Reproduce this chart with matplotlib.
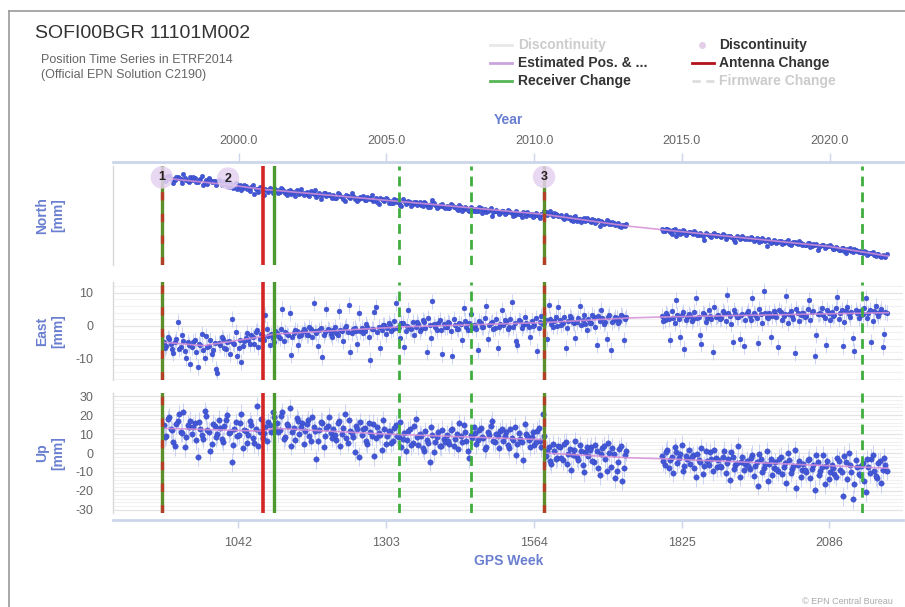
import numpy as np
import matplotlib
matplotlib.use('Agg')
import matplotlib.pyplot as plt
from matplotlib.lines import Line2D

plt.rcParams['font.family'] = ['Liberation Sans', 'DejaVu Sans']

W, H = 905, 607

# ---------------- data ----------------
seg_a_weeks = np.arange(910, 1726, 5)      # 164 samples
seg_b_weeks = np.arange(1790, 2186, 5)     # 80 samples
seg_a2_weeks = np.arange(912.5, 1728, 5)   # 164 samples
seg_b2_weeks = np.arange(1792.5, 2188, 5)  # 80 samples

north_a = [
    23.5, 22.0, 24.1, 22.8, 21.6, 23.9, 22.4, 25.8, 22.1, 20.9,
    21.8, 23.0, 20.6, 22.5, 18.9, 21.7, 22.9, 20.8, 21.4, 19.9,
    20.6, 19.2, 20.9, 17.3, 18.4, 19.0, 16.2, 18.8, 17.1, 18.0,
    16.9, 17.8, 13.2, 16.0, 17.4, 15.1, 16.6, 14.3, 15.8, 16.9,
    15.6, 14.2, 16.4, 13.8, 15.0, 12.9, 14.7, 15.9, 13.4, 14.1,
    13.9, 12.6, 14.8, 13.1, 11.2, 13.5, 12.4, 14.0, 12.7, 11.8,
    12.3, 10.8, 12.9, 11.5, 9.1, 11.9, 10.6, 12.2, 11.0, 10.2,
    10.9, 9.6, 11.5, 10.1, 8.8, 10.4, 6.9, 9.8, 9.1, 9.9,
    8.9, 7.6, 9.4, 8.2, 5.5, 8.6, 7.4, 8.0, 6.8, 7.9,
    7.2, 6.1, 8.0, 6.6, 5.4, 9.6, 6.3, 5.2, 6.0, 5.1,
    5.8, 4.6, 6.2, 4.9, 3.3, 5.0, 4.1, 4.6, 2.9, 3.8,
    3.6, 2.4, 4.3, 3.1, 1.9, 3.2, -0.5, 2.7, 2.2, 1.6,
    2.3, 1.1, 2.6, 1.4, 0.2, 1.5, 0.6, 1.9, -0.8, 0.7,
    0.9, -0.4, 0.3, -1.5, 0.5, 2.2, 1.4, 0.6, 1.6, 0.3,
    -0.6, -1.5, 0.4, -1.9, -2.8, -1.2, -3.6, -2.1, -2.6, -3.4,
    -2.8, -4.1, -3.0, -3.9, -6.5, -4.0, -4.8, -3.9, -5.2, -4.6,
    -5.4, -6.6, -5.8, -6.9,
]
north_b = [
    -8.6, -9.9, -8.8, -10.4, -9.2, -12.8, -9.7, -10.9, -10.0, -11.2,
    -10.6, -11.8, -10.9, -12.3, -11.4, -15.2, -11.9, -12.8, -11.6, -12.9,
    -12.2, -13.4, -12.6, -13.8, -12.9, -14.1, -16.9, -13.5, -14.4, -13.9,
    -14.3, -15.1, -13.9, -15.6, -14.8, -16.2, -15.4, -19.3, -15.9, -16.4,
    -15.8, -16.9, -16.2, -17.4, -16.5, -18.0, -17.1, -16.6, -17.8, -17.3,
    -17.9, -18.6, -17.6, -19.0, -18.3, -21.5, -19.1, -18.5, -19.8, -19.4,
    -19.7, -21.0, -20.3, -21.6, -20.6, -23.8, -21.4, -22.0, -21.2, -22.5,
    -22.4, -23.5, -22.9, -24.1, -23.3, -24.8, -24.2, -25.6, -24.7, -25.9,
]
north_a2 = [
    21.4, 24.6, 22.7, 20.2, 24.0, 22.9, 19.8, 23.3, 21.5, 23.7,
    23.8, 20.4, 21.9, 24.3, 20.9, 19.1, 22.2, 21.0, 18.6, 21.8,
    18.7, 21.2, 17.9, 19.8, 16.8, 20.1, 18.3, 15.4, 18.9, 16.4,
    15.2, 18.5, 16.3, 14.6, 17.1, 12.4, 15.5, 17.2, 14.1, 15.3,
    13.6, 16.8, 14.9, 12.5, 15.8, 14.4, 11.9, 14.2, 16.1, 12.8,
    14.6, 11.9, 13.7, 15.4, 12.5, 10.3, 13.9, 12.0, 13.3, 10.9,
    10.9, 13.6, 11.8, 9.9, 12.6, 11.2, 13.8, 10.3, 8.7, 11.6,
    11.8, 9.2, 10.8, 12.4, 9.6, 8.1, 11.0, 9.4, 10.7, 7.6,
    7.8, 10.3, 8.4, 6.5, 9.9, 7.1, 8.8, 5.9, 8.1, 6.4,
    8.3, 5.6, 7.4, 4.8, 6.9, 7.8, 4.5, 6.6, 7.1, 4.3,
    4.4, 6.7, 5.2, 3.6, 6.1, 2.8, 5.3, 3.4, 4.8, 2.6,
    2.8, 4.9, 1.6, 3.9, 2.5, 4.4, 1.8, 3.5, 0.9, 2.9,
    0.9, 3.1, 1.7, -0.4, 2.4, 0.8, -1.1, 1.2, 2.0, -0.1,
    -0.9, 1.4, -0.2, 0.8, 2.9, 0.1, 2.3, -0.6, 1.0, -0.7,
    0.2, -2.4, -0.9, -1.1, -3.5, -0.4, -2.2, -4.5, -1.6, -2.0,
    -3.7, -2.2, -4.6, -2.9, -3.4, -5.3, -3.1, -5.6, -4.3, -6.1,
    -4.9, -7.4, -6.0, -5.2,
]
north_b2 = [
    -10.1, -8.3, -9.5, -11.4, -8.9, -10.2, -11.7, -9.4, -12.2, -10.5,
    -11.3, -10.0, -12.6, -11.1, -13.2, -10.8, -12.4, -13.7, -11.0, -12.1,
    -13.1, -12.0, -14.6, -12.9, -13.3, -15.2, -12.7, -14.8, -13.0, -15.0,
    -15.0, -13.8, -16.1, -14.5, -16.7, -14.0, -16.3, -15.1, -17.2, -15.5,
    -17.0, -15.9, -17.8, -16.4, -15.7, -18.6, -16.8, -17.5, -16.1, -18.3,
    -18.4, -17.4, -19.6, -18.0, -17.7, -19.9, -18.8, -20.4, -19.2, -18.7,
    -20.8, -19.9, -21.9, -20.2, -22.3, -21.1, -20.5, -22.8, -21.7, -23.1,
    -23.0, -22.1, -24.6, -23.6, -22.8, -25.3, -24.0, -26.2, -25.1, -24.4,
]

east_a = [
    -4.8, -6.2, -3.9, -7.1, -5.0, 1.2, -6.4, -4.5, -9.8, -5.7,
    -6.3, -4.2, -12.5, -5.9, -7.4, -3.1, -6.0, -8.6, -5.2, -14.2,
    -5.8, -3.9, -7.0, -4.6, 2.1, -5.5, -9.2, -4.3, -6.1, -3.6,
    -4.4, -2.8, -5.6, -1.2, -3.9, -3.1, 3.4, -3.0, -2.6, -4.8,
    -2.2, -3.6, 5.1, -1.9, -2.9, -8.7, -2.3, -1.4, -3.2, -2.0,
    -1.6, -2.7, -0.8, 6.8, -2.2, -1.3, -9.5, -1.9, -0.9, -2.4,
    -1.1, -2.3, 4.6, -1.6, -0.5, -1.9, -7.8, -0.8, -1.4, 3.9,
    -0.6, -1.7, -0.2, -10.3, -0.9, 5.8, -0.4, -1.3, 0.3, -0.7,
    0.4, -1.0, 6.9, -0.3, 0.8, -6.4, 0.1, -0.6, 1.2, -0.2,
    0.6, -0.8, 1.3, -7.9, 0.2, 7.4, -0.4, 0.9, -1.1, 0.5,
    -0.3, 0.8, -9.1, 0.3, -0.9, 0.6, 5.5, -0.2, 1.0, -0.5,
    0.4, -7.2, 0.9, -0.3, 6.1, 0.2, 1.1, -0.6, -6.8, 0.7,
    0.2, 1.3, -0.4, 7.3, 0.9, -5.9, 1.4, 0.3, 1.0, -0.2,
    1.5, 0.4, -7.5, 1.1, 0.6, 1.8, 6.2, 0.7, 1.4, -0.1,
    1.9, 0.8, -6.7, 1.5, 2.3, 0.9, 1.2, 6.0, 1.7, 0.6,
    2.1, 1.0, 2.6, -5.8, 1.5, 2.4, 1.3, 2.8, -7.4, 1.8,
    2.5, 1.6, 3.0, 2.2,
]
east_b = [
    2.9, 1.8, 3.4, -4.2, 2.5, 7.8, 2.1, 3.2, -6.9, 2.7,
    3.1, 2.2, 8.6, 2.8, -5.5, 3.5, 2.4, 3.0, -7.8, 2.6,
    3.3, 2.5, 3.9, 9.5, 2.9, -4.8, 3.6, 2.7, 3.2, -6.2,
    3.8, 2.9, 8.4, 3.3, -5.1, 3.7, 10.6, 2.8, 3.9, 3.1,
    3.5, -6.5, 4.1, 3.0, 9.2, 3.6, 2.9, -8.3, 4.0, 3.4,
    3.8, 3.1, 7.9, 4.3, -9.0, 3.5, 4.0, 3.2, -5.7, 3.9,
    4.2, 3.4, 8.8, 3.9, -6.0, 4.4, 3.6, 4.1, -7.6, 3.8,
    4.5, 3.7, 8.5, 4.0, -4.9, 4.6, 3.9, 4.3, -6.4, 4.1,
]
east_a2 = [
    -6.8, -3.5, -5.4, -8.1, -4.1, -6.9, -2.7, -7.7, -4.9, -11.6,
    -4.8, -7.9, -5.5, -2.4, -9.6, -6.4, -4.4, -7.2, -13.1, -5.1,
    -3.3, -6.6, -4.9, -8.4, -5.2, -1.9, -6.8, -11.0, -4.7, -2.1,
    -5.5, -3.4, -1.8, -6.3, -2.4, -4.2, -0.9, -5.9, -3.7, -1.6,
    -3.1, -0.8, -4.5, -2.6, 3.8, -3.5, -1.1, -5.8, -2.7, -0.9,
    -2.9, -0.4, -3.3, -1.7, -6.2, -0.6, -2.8, 5.2, -1.2, -3.5,
    -0.3, -2.9, -1.2, -4.6, -0.1, 6.3, -2.2, -0.7, -5.4, -1.5,
    -2.1, 0.5, -3.4, -0.8, 4.1, -1.9, -6.8, 0.2, -2.5, 1.0,
    -1.4, 1.5, -0.7, -3.8, 0.9, -1.6, 4.8, -0.9, -2.7, 1.3,
    -1.6, 1.8, -0.5, 2.4, -3.6, 0.7, -1.3, 1.9, -8.6, -0.4,
    1.2, -1.5, 2.1, -0.8, 0.9, -4.4, 1.6, -1.1, 3.6, 0.4,
    -1.0, 1.6, -0.4, 2.3, -3.9, 1.0, -0.9, 2.0, -0.3, 4.9,
    1.7, -0.9, 2.2, -0.3, -4.6, 1.9, -0.7, 2.6, 0.5, -3.3,
    0.1, 2.4, -0.6, 3.0, 0.8, -4.1, 2.0, -0.2, 2.7, 5.8,
    0.2, 2.8, -0.5, 3.1, 1.1, -3.6, 2.5, 0.4, 3.4, -1.2,
    0.8, 3.2, -0.2, 2.9, 4.7, 0.6, -3.9, 3.3, 1.2, 2.7,
    0.9, 3.4, -4.3, 2.8,
]
east_b2 = [
    1.4, 3.9, 2.2, 4.6, 0.9, 3.3, -3.4, 4.1, 1.9, 3.6,
    1.6, 4.3, 2.5, -2.8, 3.8, 1.3, 4.7, 2.0, 5.6, 2.9,
    2.1, 4.5, 1.4, 3.9, 0.6, 4.8, 2.6, -4.1, 3.5, 1.9,
    4.4, 1.7, 3.8, 2.3, 5.1, 0.8, 4.0, 2.4, -3.3, 4.6,
    2.6, 4.9, 1.8, 3.7, 0.9, 4.5, 2.2, 5.2, 1.5, 3.9,
    2.8, 5.0, 1.9, 4.4, -2.9, 3.6, 5.4, 2.5, 4.8, 1.7,
    3.0, 5.3, 2.1, 4.7, 1.2, 5.8, 2.6, -3.8, 4.9, 2.3,
    3.2, 5.5, 2.4, 4.8, 1.6, 6.1, 3.0, 5.0, -2.6, 3.9,
]

up_a = [
    14.5, 9.2, 18.7, 12.1, 3.5, 16.8, 11.0, 21.4, 8.3, 13.9,
    10.2, 15.6, -2.1, 12.8, 7.4, 19.5, 11.3, 4.6, 14.2, 9.8,
    13.1, 6.0, 17.4, 10.5, -4.8, 12.6, 8.9, 15.8, 2.7, 11.7,
    9.4, 14.9, 5.2, 24.6, 11.2, 7.9, 13.5, 16.1, 10.8, 19.2,
    16.0, 12.2, 21.5, 8.6, 14.4, 3.9, 13.0, 18.3, 10.1, 15.7,
    11.4, 17.2, 6.5, 13.6, -3.2, 12.0, 15.9, 9.0, 14.1, 10.7,
    12.5, 7.1, 16.6, 10.2, 20.8, 5.4, 11.8, 8.3, 14.0, -1.9,
    9.6, 13.4, 4.8, 11.0, 15.5, 7.7, 10.4, 1.6, 12.7, 9.1,
    11.3, 6.2, 14.8, 8.4, 3.1, 10.6, 7.0, 12.9, 5.5, 17.9,
    4.2, 8.8, 1.3, 6.7, -4.5, 9.4, 5.8, 10.9, 3.6, 7.5,
    9.7, 5.0, 12.4, 7.3, 2.2, 8.9, 14.6, 6.1, -2.8, 8.0,
    10.3, 6.6, 13.2, 7.9, 3.0, 9.5, 17.1, 5.7, 8.8, 11.4,
    6.4, 10.8, 2.5, 8.1, 13.7, 4.9, 7.6, -3.5, 9.9, 6.9,
    8.4, 4.3, 11.6, 6.2, 20.5, -1.8, 3.4, -5.6, 1.0, -2.4,
    2.9, -3.8, 5.6, -0.7, -8.9, 1.7, -2.2, 4.0, -6.3, 0.5,
    -1.6, 3.3, -5.0, 0.9, -11.8, 2.6, -3.1, 5.2, -7.4, -0.3,
    -9.6, 2.1, -14.5, -1.2,
]
up_b = [
    -1.5, -6.2, 1.8, -3.9, -10.4, 0.7, -2.8, 4.3, -7.1, -3.3,
    -5.6, -1.2, -12.9, -3.5, 2.4, -6.8, -4.1, 0.3, -9.5, -2.7,
    -3.9, -7.6, 1.2, -5.1, -14.0, -2.3, -6.4, 3.6, -4.8, -8.9,
    -4.2, -8.3, -1.0, -6.6, -17.2, -3.4, -7.9, 0.8, -5.7, -11.5,
    -5.0, -9.7, -2.1, -7.3, -15.6, -3.8, -8.4, 1.5, -6.2, -12.8,
    -5.8, -10.1, -3.0, -8.2, -19.4, -4.6, -9.3, -1.1, -7.0, -13.6,
    -6.4, -10.9, -2.5, -8.7, -22.8, -4.9, 0.2, -9.8, -16.1, -7.2,
    -11.4, -5.3, -20.6, -7.6, -2.9, -9.5, -13.2, -4.4, -8.8, -6.1,
]
up_a2 = [
    8.4, 17.9, 12.6, 5.8, 15.2, 20.3, 10.6, 2.9, 14.8, 17.1,
    13.7, 6.8, 16.4, 9.5, 22.1, 11.9, 0.8, 15.3, 8.2, 17.6,
    7.5, 14.4, 19.8, 11.1, 4.4, 16.2, 9.7, 20.6, 12.3, 5.3,
    16.8, 8.1, 12.9, 3.6, 18.0, 10.3, 6.1, 15.0, 21.7, 12.4,
    10.8, 19.4, 7.3, 15.3, 23.6, 11.1, 6.9, 17.0, 13.8, 4.8,
    15.4, 8.8, 18.9, 11.7, 6.2, 16.5, 2.9, 13.3, 19.2, 8.0,
    9.6, 15.9, 3.8, 13.1, 7.9, 17.4, 10.5, 0.7, 12.7, 16.2,
    12.8, 6.1, 15.7, 8.9, -1.6, 13.9, 9.4, 17.2, 5.0, 11.5,
    5.3, 13.0, 9.1, 16.5, 7.5, 0.9, 11.8, 4.2, 14.0, 8.6,
    9.9, 2.7, 11.4, 5.1, 13.6, 0.4, 8.3, 3.9, 12.2, 6.0,
    6.2, 11.9, 3.5, 10.1, 15.8, 5.6, 11.2, 1.0, 9.3, 13.5,
    4.7, 12.0, 8.6, 1.9, 10.9, 14.4, 6.3, 9.8, 2.6, 12.7,
    9.2, 4.1, 12.6, 7.0, -0.9, 10.4, 5.8, 15.1, 8.7, 3.3,
    10.9, 5.7, 13.3, 2.9, 9.0, 1.2, -4.1, 4.6, -2.9, 3.8,
    -2.6, 4.8, -5.7, 1.9, -1.3, 6.3, -3.9, 0.8, -10.2, 3.1,
    1.6, -4.4, 4.2, -7.9, -0.6, 3.9, -9.3, 0.2, 2.8, -13.4,
    -4.7, 3.5, -7.8, 0.9,
]
up_b2 = [
    -4.4, 0.6, -7.9, -2.2, 2.9, -5.5, -0.4, -9.3, -1.8, 1.5,
    -2.0, -8.1, -0.6, -4.9, -11.2, 0.9, -6.3, -2.9, 1.7, -7.4,
    -6.7, -1.9, -10.6, -3.0, 0.4, -8.2, -5.4, -12.5, -2.1, -6.0,
    -7.1, -2.6, -12.0, -4.8, -0.3, -9.8, -5.9, -15.0, -3.3, -7.8,
    -8.6, -3.1, -11.3, -5.5, 0.2, -10.4, -6.8, -18.6, -4.0, -9.1,
    -9.2, -3.9, -13.4, -6.5, -1.2, -11.7, -7.5, -16.4, -4.3, -10.2,
    -8.0, -12.6, -4.1, -9.9, -1.5, -13.9, -6.1, -24.3, -3.6, -11.0,
    -6.9, -14.8, -3.4, -10.6, -1.0, -12.3, -5.2, -15.9, -2.4, -9.4,
]

# formal errors (mm) shown as light error bars
north_sigma = 1.3
east_sigma = 2.4
up_sigma = 5.0

# estimated position model (piecewise)
north_model_w = [912, 1024, 1086, 1105, 1582, 1730, 1790, 2086, 2190]
north_model_v = [23.0, 19.0, 16.0, 15.5, 0.5, -6.8, -9.0, -19.5, -25.5]
east_model_w = [912, 980, 1086, 1105, 1330, 1582, 1730, 1790, 2190]
east_model_v = [-5.0, -6.0, -3.2, -2.5, -0.3, 1.0, 2.4, 2.7, 4.0]
up_model_w = [912, 1086, 1105, 1300, 1582, 1582, 1730, 1790, 2190]
up_model_v = [13.0, 11.5, 13.0, 10.0, 7.0, 0.0, -2.5, -3.0, -8.0]

# events
antenna_weeks = [907, 1086, 1582]
receiver_weeks = [907, 1105, 1582]
receiver_dashed_weeks = [1326, 1453, 2143]
disc_weeks = [907, 1024, 1582]
disc_labels = ['1', '2', '3']
disc_level = [23.5, 22.8, 23.8]

gps_ticks = [1042, 1303, 1564, 1825, 2086]
year_ticks = [2000.0, 2005.0, 2010.0, 2015.0, 2020.0]

# ---------------- styling ----------------
BLUE_TXT = '#6a7fd0'
GRAY_TXT = '#666666'
PT_COLOR = '#4257d6'
ERR_COLOR = '#c3ccf1'
MODEL_COLOR = '#d78fd7'
RED = '#d42525'
GREEN = '#3fae3f'
AXIS_BLUE = '#ccd6eb'

XLIM = (820.7, 2216.0)


def fx(x):
    return x / W


def fy(y):
    return 1 - y / H


def year2week(y):
    return (np.asarray(y) - 1980.0137) * 365.25 / 7.0


fig = plt.figure(figsize=(W / 100, H / 100), dpi=100)

weeks = np.concatenate([seg_a_weeks, seg_b_weeks, seg_a2_weeks, seg_b2_weeks])

panels = [
    dict(label='North\n[mm]', vals=north_a + north_b + north_a2 + north_b2,
         sig=north_sigma, mw=north_model_w, mv=north_model_v, ms=3.2,
         ylim=(-31.0, 30.6), ticks=[-20, 0, 20], minor=None, top=166, bot=265),
    dict(label='East\n[mm]', vals=east_a + east_b + east_a2 + east_b2,
         sig=east_sigma, mw=east_model_w, mv=east_model_v, ms=3.5,
         ylim=(-16.4, 13.3), ticks=[-10, 0, 10], minor=2, top=282, bot=380),
    dict(label='Up\n[mm]', vals=up_a + up_b + up_a2 + up_b2,
         sig=up_sigma, mw=up_model_w, mv=up_model_v, ms=3.9,
         ylim=(-31.6, 31.6), ticks=[-30, -20, -10, 0, 10, 20, 30], minor=2,
         top=393, bot=513),
]

axes = []
for i, p in enumerate(panels):
    ax = fig.add_axes([fx(113), fy(p['bot']), fx(903) - fx(113),
                       fy(p['top']) - fy(p['bot'])])
    axes.append(ax)
    ax.set_xlim(*XLIM)
    ax.set_ylim(*p['ylim'])
    for s in ['top', 'right', 'bottom']:
        ax.spines[s].set_visible(False)
    ax.spines['left'].set_color('#d9d9d9')
    ax.spines['left'].set_linewidth(1.0)
    ax.set_yticks(p['ticks'])
    ax.set_yticklabels([str(t) for t in p['ticks']])
    ax.tick_params(axis='y', length=0, pad=14, labelsize=9, labelcolor=GRAY_TXT)
    if p['minor']:
        lo = int(np.ceil(p['ylim'][0] / p['minor'])) * p['minor']
        ax.set_yticks(np.arange(lo, p['ylim'][1], p['minor']), minor=True)
        ax.tick_params(axis='y', which='minor', length=0)
        ax.grid(True, axis='y', which='minor', color='#f1f1f1', lw=0.8, zorder=0)
    ax.grid(True, axis='y', which='major', color='#e4e4e4', lw=0.9, zorder=0)
    ax.set_axisbelow(True)

    vals = np.array(p['vals'])
    ax.errorbar(weeks, vals, yerr=p['sig'], fmt='none', ecolor=ERR_COLOR,
                elinewidth=0.6, capsize=0, zorder=2)
    ax.plot(weeks, vals, 'o', ms=p['ms'], color=PT_COLOR, mec='#3546c0', mew=0.3,
            zorder=3, linestyle='none')
    ax.plot(p['mw'], p['mv'], color=MODEL_COLOR, lw=1.2, alpha=0.85, zorder=4)

    # event lines
    for w in receiver_dashed_weeks:
        ax.axvline(w, color=GREEN, lw=2.0, ls=(0, (3.5, 2.2)), zorder=5)
    for w in antenna_weeks:
        if w in receiver_weeks:
            continue
        ax.axvline(w, color=RED, lw=2.6, zorder=5)
    for w in receiver_weeks:
        if w in antenna_weeks:
            ax.axvline(w, color='#5c8f2a', lw=2.4, zorder=5)
            ax.axvline(w, color=RED, lw=2.4, ls=(0, (2.5, 4.0)), alpha=0.75, zorder=6)
        else:
            ax.axvline(w, color='#4a9a30', lw=2.4, zorder=5)

    if i < 2:
        ax.set_xticks([])
    else:
        ax.spines['bottom'].set_visible(True)
        ax.spines['bottom'].set_position(('outward', 5))
        ax.spines['bottom'].set_color(AXIS_BLUE)
        ax.spines['bottom'].set_linewidth(2)
        ax.set_xticks(gps_ticks)
        ax.set_xticklabels([str(t) for t in gps_ticks])
        ax.tick_params(axis='x', length=6, width=1, color=AXIS_BLUE, pad=6,
                       labelsize=9, labelcolor=GRAY_TXT)

    fig.text(fx(50), fy((p['top'] + p['bot']) / 2), p['label'], rotation=90,
             ha='center', va='center', multialignment='center',
             color=BLUE_TXT, fontsize=10, fontweight='bold', linespacing=1.25)

# discontinuity markers on North panel
axn = axes[0]
axn.scatter(disc_weeks, disc_level, s=260, color='#e6d2ef', alpha=0.85,
            edgecolors='none', zorder=7)
for w, lv, lab in zip(disc_weeks, disc_level, disc_labels):
    axn.text(w, lv, lab, ha='center', va='center', fontsize=9,
             fontweight='bold', color='#222222', zorder=8)

# top year axis
axt = axn.twiny()
axt.set_xlim(*XLIM)
for s in ['bottom', 'left', 'right']:
    axt.spines[s].set_visible(False)
axt.spines['top'].set_position(('outward', 3))
axt.spines['top'].set_color(AXIS_BLUE)
axt.spines['top'].set_linewidth(2)
axt.set_xticks(year2week(year_ticks))
axt.set_xticklabels(['%.1f' % y for y in year_ticks])
axt.tick_params(axis='x', length=6.5, width=1, color=AXIS_BLUE, pad=4,
                labelsize=9, labelcolor=GRAY_TXT)
axt.set_yticks([])

# axis titles
fig.text(fx(508), fy(120), 'Year', ha='center', va='center', color=BLUE_TXT,
         fontsize=10, fontweight='bold')
fig.text(fx(509), fy(561), 'GPS Week', ha='center', va='center', color=BLUE_TXT,
         fontsize=10, fontweight='bold')

# titles
fig.text(fx(35), fy(33), 'SOFI00BGR 11101M002', ha='left', va='center',
         color='#333333', fontsize=14)
fig.text(fx(41), fy(60), 'Position Time Series in ETRF2014', ha='left',
         va='center', color='#666666', fontsize=9)
fig.text(fx(41), fy(75), '(Official EPN Solution C2190)', ha='left',
         va='center', color='#666666', fontsize=9)


# legend (manual)
def leg_line(x0, x1, y, color, ls='-', lw=2.0):
    fig.add_artist(Line2D([fx(x0), fx(x1)], [fy(y), fy(y)], color=color,
                          lw=lw, ls=ls))


def leg_text(x, y, s, color):
    fig.text(fx(x), fy(y), s, ha='left', va='center', color=color,
             fontsize=10, fontweight='bold')


leg_line(490, 512, 45, '#e8e8e8')
leg_text(518, 45, 'Discontinuity', '#cccccc')
leg_line(490, 512, 63, '#c9a3dd')
leg_text(518, 63, 'Estimated Pos. & ...', '#333333')
leg_line(490, 512, 81, '#55b555')
leg_text(518, 81, 'Receiver Change', '#333333')
fig.add_artist(Line2D([fx(702)], [fy(45)], marker='o', ms=4,
                      color='#e3cfe8', ls='none'))
leg_text(719, 45, 'Discontinuity', '#333333')
leg_line(692, 714, 63, '#b3121c')
leg_text(719, 63, 'Antenna Change', '#333333')
leg_line(692, 714, 81, '#dddddd', ls=(0, (3, 2)))
leg_text(719, 81, 'Firmware Change', '#cccccc')

# frame
fig.add_artist(Line2D([fx(9), fx(9)], [0, fy(11)], color='#999999', lw=1.2))
fig.add_artist(Line2D([fx(9), 1], [fy(11), fy(11)], color='#999999', lw=1.2))

fig.text(fx(893), fy(602), '\u00a9 EPN Central Bureau', ha='right', va='center',
         color='#aaaaaa', fontsize=6.5)

fig.savefig('out.png', dpi=100)
